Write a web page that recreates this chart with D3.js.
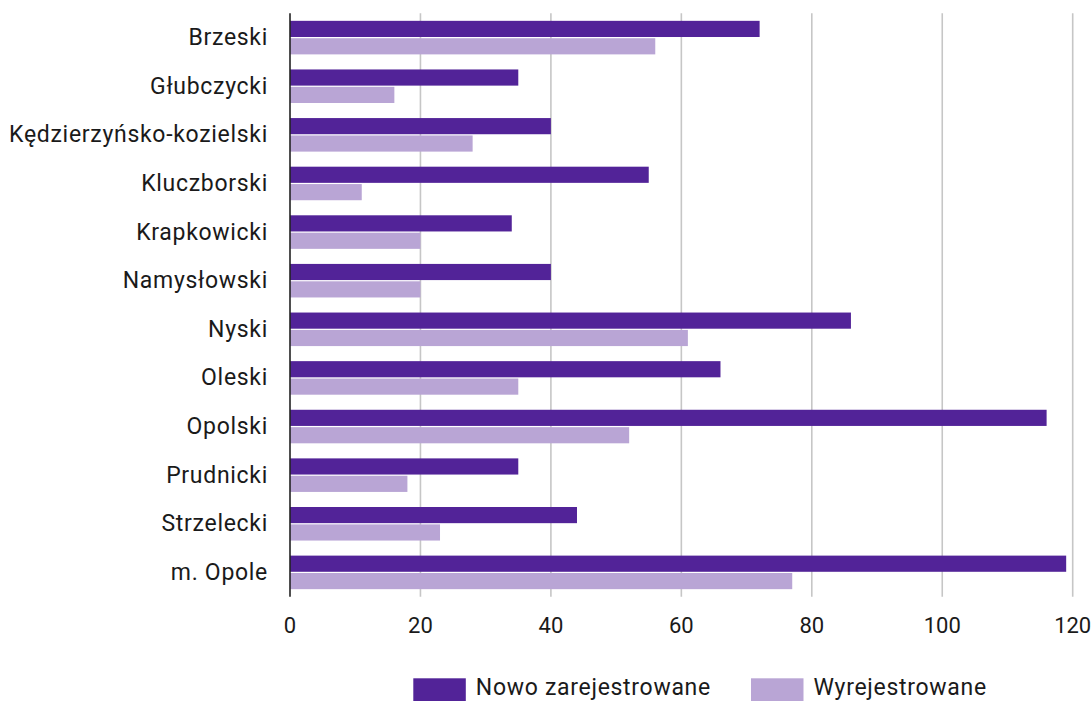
<!DOCTYPE html>
<html>
<head>
<meta charset="utf-8">
<script src="https://cdn.jsdelivr.net/npm/d3@7"></script>
<style>
  html, body { margin: 0; padding: 0; background: #fff; }
  svg { display: block; }
  text { font-family: "Roboto", "Noto Sans", sans-serif; fill: #1a1a1a; }
</style>
</head>
<body>
<svg id="chart" width="1091" height="701"></svg>
<script>
const categories = ["Brzeski","Głubczycki","Kędzierzyńsko-kozielski","Kluczborski","Krapkowicki","Namysłowski","Nyski","Oleski","Opolski","Prudnicki","Strzelecki","m. Opole"];
const seriesNames = ["Nowo zarejestrowane","Wyrejestrowane"];
const nowoZarejestrowane = [72,35,40,55,34,40,86,66,116,35,44,119];
const wyrejestrowane = [56,16,28,11,20,20,61,35,52,18,23,77];
const tickValues = [0,20,40,60,80,100,120];
const colors = ["#522398","#b9a5d5"];

const seriesValues = [nowoZarejestrowane, wyrejestrowane];
const svg = d3.select("#chart");

const x = d3.scaleLinear().domain([0,120]).range([290,1072.7]);
const y = d3.scaleBand().domain(categories).range([13.3,596.7]).paddingInner(0.31).paddingOuter(0.155);
const ySub = d3.scaleBand().domain([0,1]).range([0,y.bandwidth()]).paddingInner(0.07);

// gridlines
svg.append("g").selectAll("line").data(tickValues.filter(d => d > 0)).join("line")
  .attr("x1", d => x(d)).attr("x2", d => x(d))
  .attr("y1", 13.3).attr("y2", 596.7)
  .attr("stroke", "#c6c6c6").attr("stroke-width", 1.6);

// bars
const groups = svg.append("g").selectAll("g").data(categories).join("g")
  .attr("transform", d => `translate(0,${y(d)})`);
groups.selectAll("rect").data((d,i) => seriesValues.map((s,k) => ({k, v: s[i]}))).join("rect")
  .attr("x", x(0))
  .attr("y", d => ySub(d.k))
  .attr("width", d => x(d.v) - x(0))
  .attr("height", ySub.bandwidth())
  .attr("fill", d => colors[d.k]);

// y axis line
svg.append("line").attr("x1", 290).attr("x2", 290).attr("y1", 13.3).attr("y2", 596.7)
  .attr("stroke", "#222").attr("stroke-width", 1.6);

// category labels
svg.append("g").selectAll("text").data(categories).join("text")
  .attr("x", 268).attr("y", d => y(d) + y.bandwidth()/2)
  .attr("text-anchor", "end").attr("dominant-baseline", "central")
  .attr("font-size", 23).attr("letter-spacing", 0.7).text(d => d);

// x tick labels
svg.append("g").selectAll("text").data(tickValues).join("text")
  .attr("x", d => x(d)).attr("y", 625)
  .attr("text-anchor", "middle").attr("dominant-baseline", "central")
  .attr("font-size", 22).text(d => d);

// legend
const legendX = [413.3, 751];
const lg = svg.append("g").selectAll("g").data(seriesNames).join("g")
  .attr("transform", (d,i) => `translate(${legendX[i]},678.3)`);
lg.append("rect").attr("width", 52.5).attr("height", 24).attr("fill", (d,i) => colors[i]);
lg.append("text").attr("x", 62.5).attr("y", 17).attr("font-size", 23).attr("letter-spacing", 0.7).text(d => d);
</script>
</body>
</html>
